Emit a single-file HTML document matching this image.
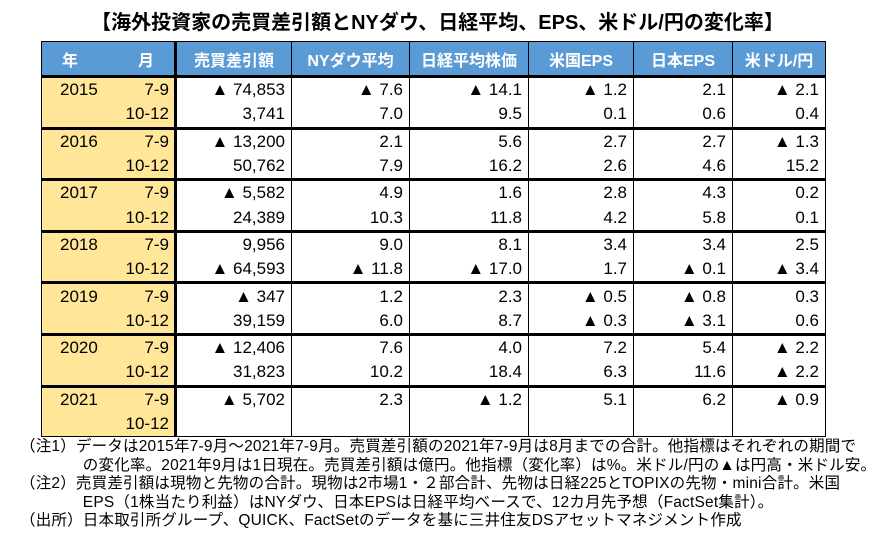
<!DOCTYPE html><html><head><meta charset="utf-8"><style>
body{margin:0;width:875px;height:543px;background:#fff;font-family:"Liberation Sans","Noto Sans CJK JP",sans-serif;position:relative;overflow:hidden;color:#000}
.t{position:absolute;left:0;width:875px;top:6px;text-align:center;font-weight:bold;font-size:20px}
table{position:absolute;left:41px;top:41px;border-collapse:collapse;table-layout:fixed}
td{border-left:1.5px solid #000;border-right:1.5px solid #000;height:24.3px;padding:0 6px 0 0;text-align:right;font-size:17px;white-space:nowrap;line-height:24px}
th{background:#5B9BD5;color:#fff;font-size:16px;height:31px;border:1.5px solid #000;font-weight:bold}
td.y{background:#FFE699;text-align:left;padding-left:18px;border-right:none}
td.m{background:#FFE699;border-left:none;border-right:3px solid #000;padding-right:5px}
tr.g td{border-top:3px solid #000}
.n{position:absolute;left:20px;font-size:15.5px;letter-spacing:0.2px;line-height:18.5px;white-space:nowrap}
</style></head><body>
<div class="t">【海外投資家の売買差引額とNYダウ、日経平均、EPS、米ドル/円の変化率】</div>
<table>
<colgroup><col style="width:70px"><col style="width:64px"><col style="width:116px"><col style="width:118px"><col style="width:119px"><col style="width:105px"><col style="width:99px"><col style="width:93px"></colgroup>
<tr><th colspan="2" style="border-right:3px solid #000"><span style="margin-right:60px">年</span>月</th><th>売買差引額</th><th>NYダウ平均</th><th>日経平均株価</th><th>米国EPS</th><th>日本EPS</th><th>米ドル/円</th></tr>
<tr class="g"><td class="y">2015</td><td class="m">7-9</td><td>▲ 74,853</td><td>▲ 7.6</td><td>▲ 14.1</td><td>▲ 1.2</td><td>2.1</td><td>▲ 2.1</td></tr>
<tr><td class="y"></td><td class="m">10-12</td><td>3,741</td><td>7.0</td><td>9.5</td><td>0.1</td><td>0.6</td><td>0.4</td></tr>
<tr class="g"><td class="y">2016</td><td class="m">7-9</td><td>▲ 13,200</td><td>2.1</td><td>5.6</td><td>2.7</td><td>2.7</td><td>▲ 1.3</td></tr>
<tr><td class="y"></td><td class="m">10-12</td><td>50,762</td><td>7.9</td><td>16.2</td><td>2.6</td><td>4.6</td><td>15.2</td></tr>
<tr class="g"><td class="y">2017</td><td class="m">7-9</td><td>▲ 5,582</td><td>4.9</td><td>1.6</td><td>2.8</td><td>4.3</td><td>0.2</td></tr>
<tr><td class="y"></td><td class="m">10-12</td><td>24,389</td><td>10.3</td><td>11.8</td><td>4.2</td><td>5.8</td><td>0.1</td></tr>
<tr class="g"><td class="y">2018</td><td class="m">7-9</td><td>9,956</td><td>9.0</td><td>8.1</td><td>3.4</td><td>3.4</td><td>2.5</td></tr>
<tr><td class="y"></td><td class="m">10-12</td><td>▲ 64,593</td><td>▲ 11.8</td><td>▲ 17.0</td><td>1.7</td><td>▲ 0.1</td><td>▲ 3.4</td></tr>
<tr class="g"><td class="y">2019</td><td class="m">7-9</td><td>▲ 347</td><td>1.2</td><td>2.3</td><td>▲ 0.5</td><td>▲ 0.8</td><td>0.3</td></tr>
<tr><td class="y"></td><td class="m">10-12</td><td>39,159</td><td>6.0</td><td>8.7</td><td>▲ 0.3</td><td>▲ 3.1</td><td>0.6</td></tr>
<tr class="g"><td class="y">2020</td><td class="m">7-9</td><td>▲ 12,406</td><td>7.6</td><td>4.0</td><td>7.2</td><td>5.4</td><td>▲ 2.2</td></tr>
<tr><td class="y"></td><td class="m">10-12</td><td>31,823</td><td>10.2</td><td>18.4</td><td>6.3</td><td>11.6</td><td>▲ 2.2</td></tr>
<tr class="g"><td class="y">2021</td><td class="m">7-9</td><td>▲ 5,702</td><td>2.3</td><td>▲ 1.2</td><td>5.1</td><td>6.2</td><td>▲ 0.9</td></tr>
<tr style="border-bottom:1.5px solid #000"><td class="y"></td><td class="m">10-12</td><td></td><td></td><td></td><td></td><td></td><td></td></tr>
</table>
<div class="n" style="top:438px">（注1）データは2015年7-9月～2021年7-9月。売買差引額の2021年7-9月は8月までの合計。他指標はそれぞれの期間で<br>　　　　の変化率。2021年9月は1日現在。売買差引額は億円。他指標（変化率）は%。米ドル/円の▲は円高・米ドル安。<br>（注2）売買差引額は現物と先物の合計。現物は2市場1・２部合計、先物は日経225とTOPIXの先物・mini合計。米国<br>　　　　EPS（1株当たり利益）はNYダウ、日本EPSは日経平均ベースで、12カ月先予想（FactSet集計）。<br>（出所）日本取引所グループ、QUICK、FactSetのデータを基に三井住友DSアセットマネジメント作成</div>
</body></html>
